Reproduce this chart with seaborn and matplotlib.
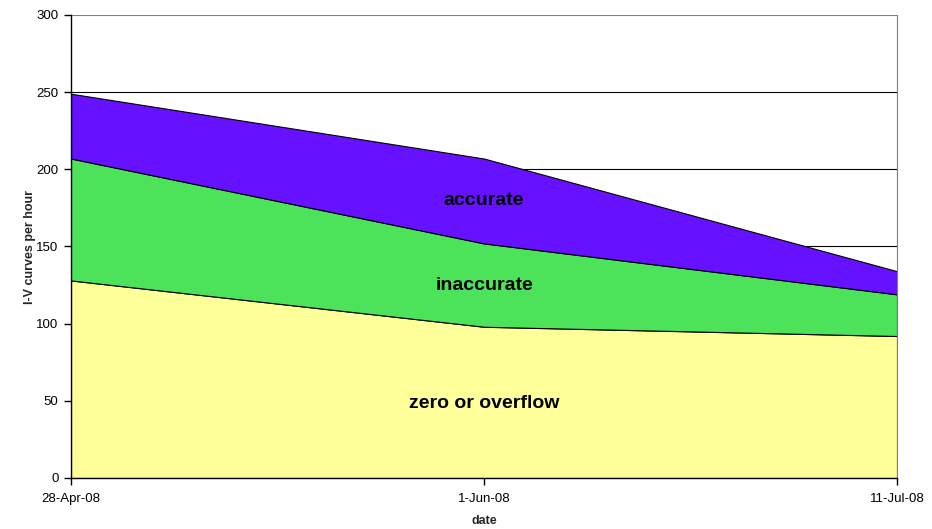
import matplotlib
matplotlib.use("Agg")
from matplotlib import pyplot as plt
import seaborn as sns
import numpy as np

dates = ["28-Apr-08", "1-Jun-08", "11-Jul-08"]
zero_or_overflow = [128, 98, 92]
inaccurate = [79, 54, 27]
accurate = [42, 55, 15]

series_names = ["zero or overflow", "inaccurate", "accurate"]
colors = ["#FFFF99", "#4CE35A", "#6611FF"]
label_y = [48, 125, 180]

sns.set_theme(style="white")
plt.rcParams["font.family"] = ["Liberation Sans", "DejaVu Sans"]

f = plt.figure(figsize=(9.32, 5.29), dpi=100)
ax = f.add_axes([71 / 932, 1 - 478 / 529, (897 - 71) / 932, (478 - 15) / 529])

x = np.arange(len(dates))
ax.stackplot(
    x, zero_or_overflow, inaccurate, accurate,
    colors=colors,
    edgecolor="black",
    linewidth=0.8,
    zorder=2,
)

for name, y in zip(series_names, label_y):
    ax.text(
        x[len(x) // 2], y, name,
        ha="center", va="center",
        fontsize=14, fontweight="bold", color="black",
        zorder=5,
    )

ax.set_xlim(x[0], x[-1])
ax.set_ylim(0, 300)
ax.set_yticks(range(0, 301, 50))
ax.set_xticks(x)
ax.set_xticklabels(dates)
ax.yaxis.grid(True, color="black", linewidth=0.8, zorder=0)
ax.get_ygridlines()[-1].set_color("#808080")
ax.set_axisbelow(True)

ax.spines["top"].set_visible(False)
ax.spines["right"].set_color("#808080")
ax.spines["right"].set_linewidth(0.8)
ax.spines["left"].set_color("black")
ax.spines["bottom"].set_color("black")
ax.spines["left"].set_linewidth(1)
ax.spines["bottom"].set_linewidth(1)

ax.tick_params(axis="both", which="major", direction="out", length=5,
               width=1, color="black", labelsize=9.5, labelcolor="black",
               left=True, bottom=True)
ax.tick_params(axis="y", pad=4)
ax.tick_params(axis="x", pad=6)

ax.set_xlabel("date", fontsize=9, fontweight="bold")
ax.set_ylabel("I-V curves per hour", fontsize=9, fontweight="bold")
ax.xaxis.set_label_coords(0.5, -(521 - 478) / 463, transform=ax.transAxes)
ax.yaxis.set_label_coords(-(71 - 30) / 826, 0.5, transform=ax.transAxes)
ax.xaxis.label.set_va("center")
ax.yaxis.label.set_va("center")

f.savefig("out.png", dpi=100)
